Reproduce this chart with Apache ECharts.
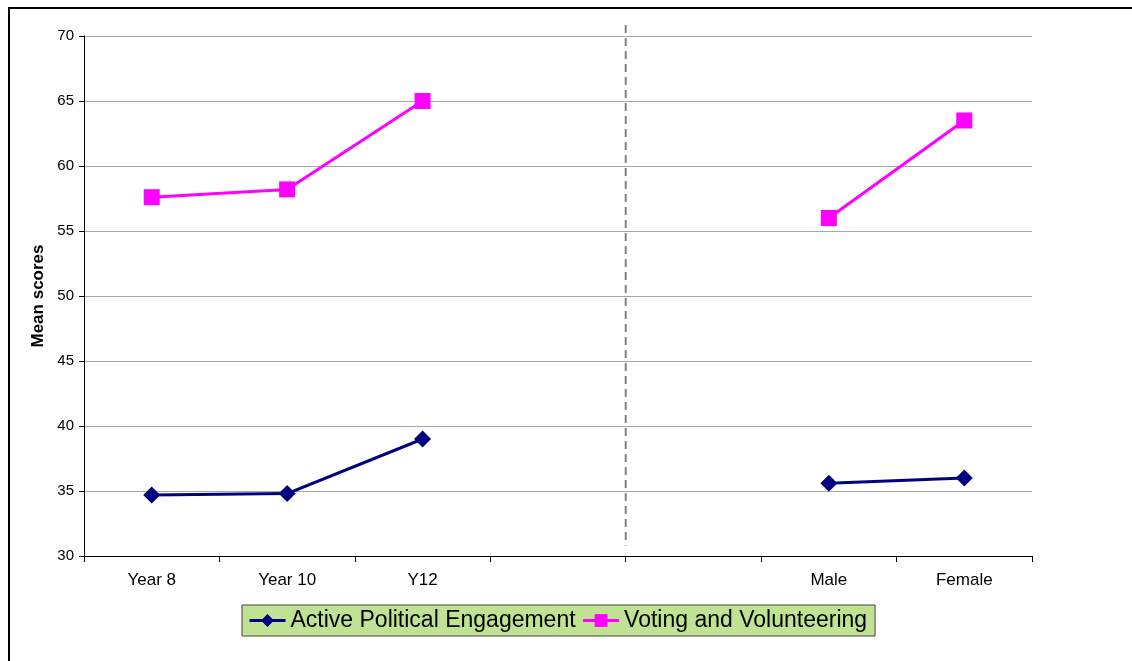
<!DOCTYPE html>
<html>
<head>
<meta charset="utf-8">
<script src="https://cdn.jsdelivr.net/npm/echarts@6/dist/echarts.min.js"></script>
<style>
  html, body { margin: 0; padding: 0; background: #fff; }
  #main { width: 1132px; height: 661px; }
  #frame { position: absolute; left: 8px; top: 7px; width: 1140px; height: 670px; border: 2px solid #000; pointer-events: none; }
</style>
</head>
<body>
<div id="main"></div>
<div id="frame"></div>
<script>
// categories (two empty slots separate the year group from the gender group)
var categories = ['Year 8', 'Year 10', 'Y12', '', '', 'Male', 'Female']
var activePolitical = [34.7, 34.8, 39.0, '-', '-', 35.6, 36.0]
var votingVolunteer = [57.6, 58.2, 65.0, '-', '-', 56.0, 63.5]
var yTicks = [30, 35, 40, 45, 50, 55, 60, 65, 70]
// divider between the two groups (x in category-width units from the left edge)
var dividerLine = [[4, 70.85], [4, 30.8]]

var myChart = echarts.init(document.getElementById('main'))
var font = 'Liberation Sans, Arial, sans-serif'

var option = {
  animation: false,
  grid: { left: 84, right: 100, top: 36, height: 520 },
  legend: {
    data: ['Active Political Engagement', 'Voting and Volunteering'],
    left: 242,
    top: 605,
    itemGap: 6,
    itemWidth: 36,
    itemHeight: 16,
    padding: [4, 8, 4, 6],
    backgroundColor: '#bfe393',
    borderColor: '#444',
    borderWidth: 1,
    borderRadius: 0,
    lineStyle: { width: 3 },
    textStyle: { fontFamily: font, fontSize: 23, color: '#000' }
  },
  xAxis: [
    {
      type: 'category',
      data: categories,
      boundaryGap: true,
      axisLine: { lineStyle: { color: '#000', width: 1 } },
      axisTick: { show: true, length: 6, lineStyle: { color: '#000' } },
      axisLabel: { interval: 0, fontFamily: font, fontSize: 17, color: '#000', margin: 16 },
      splitLine: { show: false }
    },
    {
      type: 'value',
      min: 0,
      max: 7,
      show: false
    }
  ],
  yAxis: {
    type: 'value',
    min: yTicks[0],
    max: yTicks[yTicks.length - 1],
    interval: 5,
    name: 'Mean scores',
    nameLocation: 'middle',
    nameGap: 35,
    nameTextStyle: { fontFamily: font, fontSize: 17, fontWeight: 'bold', color: '#000' },
    axisLine: { show: true, lineStyle: { color: '#000', width: 1 } },
    axisTick: { show: true, length: 5, lineStyle: { color: '#000' } },
    axisLabel: { fontFamily: font, fontSize: 15, color: '#000', margin: 10 },
    splitLine: { show: true, lineStyle: { color: '#a6a6a6', width: 1 } }
  },
  series: [
    {
      name: 'Active Political Engagement',
      type: 'line',
      data: activePolitical,
      connectNulls: false,
      symbol: 'diamond',
      symbolSize: 17,
      lineStyle: { color: '#000080', width: 3 },
      itemStyle: { color: '#000080' }
    },
    {
      name: 'Voting and Volunteering',
      type: 'line',
      data: votingVolunteer,
      connectNulls: false,
      symbol: 'rect',
      symbolSize: 16,
      lineStyle: { color: '#ff00ff', width: 3 },
      itemStyle: { color: '#ff00ff' }
    },
    {
      name: 'divider',
      type: 'line',
      xAxisIndex: 1,
      data: dividerLine,
      clip: false,
      symbol: 'none',
      silent: true,
      lineStyle: { color: '#808080', width: 2, type: [8, 5] }
    }
  ]
}

myChart.setOption(option)
</script>
</body>
</html>
